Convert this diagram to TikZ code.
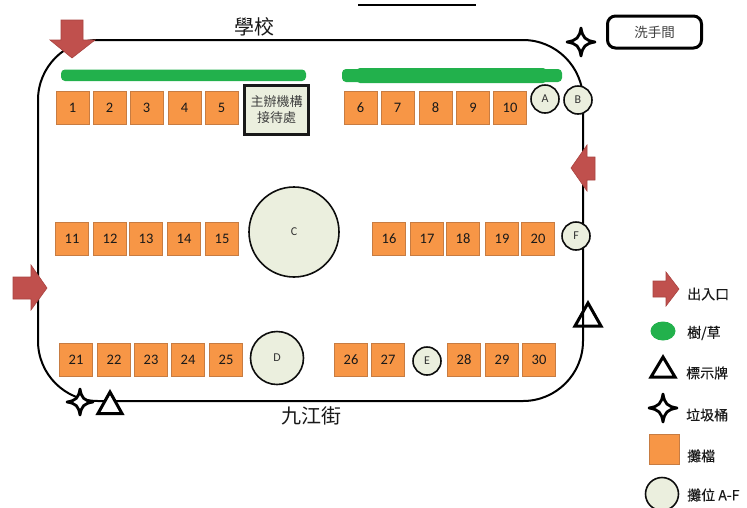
\documentclass[tikz,border=0pt]{standalone}
\usepackage{fontspec}
\setmainfont{Carlito}
\newfontfamily\cjk{Noto Sans CJK TC}
\newfontfamily\cjkb[FakeBold=0.25]{Noto Sans CJK TC}
\definecolor{stallfill}{HTML}{F79646}
\definecolor{stallline}{HTML}{C77C42}
\definecolor{boothfill}{HTML}{EBEFDE}
\definecolor{grassgreen}{HTML}{22B14C}
\definecolor{arrowred}{HTML}{C0504D}
\definecolor{arrowline}{HTML}{A8423F}
\definecolor{graytext}{HTML}{404040}
\tikzset{
  stall/.style={draw=stallline,line width=1pt,fill=stallfill,minimum size=33pt,inner sep=0pt,font=\fontsize{14.5}{14}\selectfont,text=black!90},
  booth/.style={circle,draw=black!95,line width=1.6pt,fill=boothfill,inner sep=0pt,font=\fontsize{12}{12}\selectfont,text=black!80},
  grass/.style={fill=grassgreen,rounded corners=4pt},
  entry/.style={fill=arrowred,draw=arrowline,line width=.6pt},
  sign/.style={draw=black,line width=3pt,fill=white,line join=miter},
  bin/.style={draw=black,line width=2.8pt,fill=white,line join=round},
  legendtext/.style={anchor=west,inner sep=0pt,font=\cjkb\fontsize{14}{14}\selectfont,text=black!90},
  titletext/.style={inner sep=0pt,font=\cjk\fontsize{20}{20}\selectfont,text=black!90}
}
% star: centre x, centre y, radius
\newcommand{\fourstar}[3]{%
  \draw[bin] (#1,#2-#3) .. controls (#1+#3*.12,#2-#3*.3) and (#1+#3*.3,#2-#3*.12) .. (#1+#3,#2)
    .. controls (#1+#3*.3,#2+#3*.12) and (#1+#3*.12,#2+#3*.3) .. (#1,#2+#3)
    .. controls (#1-#3*.12,#2+#3*.3) and (#1-#3*.3,#2+#3*.12) .. (#1-#3,#2)
    .. controls (#1-#3*.3,#2-#3*.12) and (#1-#3*.12,#2-#3*.3) .. cycle;}
\begin{document}
\begin{tikzpicture}[x=1pt,y=-1pt]
\useasboundingbox (0,0) rectangle (747,507);
% outline
\draw[black,line width=2pt,rounded corners=60pt] (38,40) rectangle (583,401);
% top stroke
\draw[black,line width=2pt] (358,5) -- (476,5);
% grass
\fill[grass] (61,69.5) rectangle (306,81);
\fill[grass] (342,69) rectangle (562,82);
\fill[grass] (356,68) rectangle (547,83);
% stalls
\foreach \n/\x in {1/72.5,2/109.5,3/146.5,4/184.5,5/221.5,6/360.5,7/397.5,8/435.5,9/473,10/510}
  \node[stall] (s\n) at (\x,107.5) {\n};
\foreach \n/\x in {11/72,12/110,13/146,14/184,15/222,16/389,17/427,18/463,19/502,20/538}
  \node[stall] (s\n) at (\x,238.5) {\n};
\foreach \n/\x in {21/76,22/114,23/151,24/188,25/226,26/351,27/388,28/464,29/502,30/539}
  \node[stall] (s\n) at (\x,360) {\n};
% reception
\node[draw=black!90,line width=2.4pt,fill=boothfill,minimum width=64pt,minimum height=49pt,inner sep=0pt,align=center,
  font=\cjk\fontsize{13}{16}\selectfont,text=graytext] (host) at (276.5,110) {主辦機構\\接待處};
% booths
\node[booth,minimum size=90pt] (C) at (294,232) {C};
\node[booth,minimum size=53pt] (D) at (277,358) {D};
\node[booth,minimum size=28pt] (A) at (545,99) {A};
\node[booth,minimum size=28pt] (B) at (578,100) {B};
\node[booth,minimum size=28pt] (E) at (427,361) {E};
\node[booth,minimum size=28pt] (F) at (576,236) {F};
% entries
\draw[entry] (61,20) -- (83,20) -- (83,40) -- (95,40) -- (72,58) -- (50,40) -- (61,40) -- cycle;
\draw[entry] (595,157) -- (587,157) -- (587,145) -- (571,168) -- (587,191) -- (587,180) -- (595,180) -- cycle;
\draw[entry] (13,277) -- (31,277) -- (31,265) -- (47,288) -- (31,310) -- (31,299) -- (13,299) -- cycle;
\draw[entry] (653,281) -- (666,281) -- (666,272) -- (679,289) -- (666,306) -- (666,297) -- (653,297) -- cycle;
% signs
\draw[sign,fill=none] (588,303) -- (601,326) -- (575,326) -- cycle;
\draw[sign] (110,392) -- (122,413.5) -- (98,413.5) -- cycle;
\draw[sign] (663,357) -- (675,377) -- (651,377) -- cycle;
% bins
\fourstar{581}{42}{14}
\fourstar{80}{402}{13}
\fourstar{663}{408}{14}
% washroom
\node[draw=black,line width=3pt,rounded corners=8pt,minimum width=94pt,minimum height=32pt,inner sep=0pt,
  font=\cjk\fontsize{13.5}{13.5}\selectfont,text=graytext] (wc) at (654.5,32) {洗手間};
% titles
\node[titletext] (school) at (254.5,27) {學校};
\node[titletext] (street) at (311,416) {九江街};
% legend
\fill[grassgreen] (663,331) ellipse (12.5pt and 9.5pt);
\node[stall,minimum size=30pt] (lstall) at (664,449) {};
\node[booth,minimum size=33pt] (lbooth) at (662,494) {};
\node[legendtext] (l1) at (687,294) {出入口};
\node[legendtext] (l2) at (687,333) {樹/草};
\node[legendtext] (l3) at (686,373) {標示牌};
\node[legendtext] (l4) at (686,415) {垃圾桶};
\node[legendtext] (l5) at (687,456) {攤檔};
\node[legendtext] (l6) at (687,495) {攤位 A-F};
\end{tikzpicture}
\end{document}
